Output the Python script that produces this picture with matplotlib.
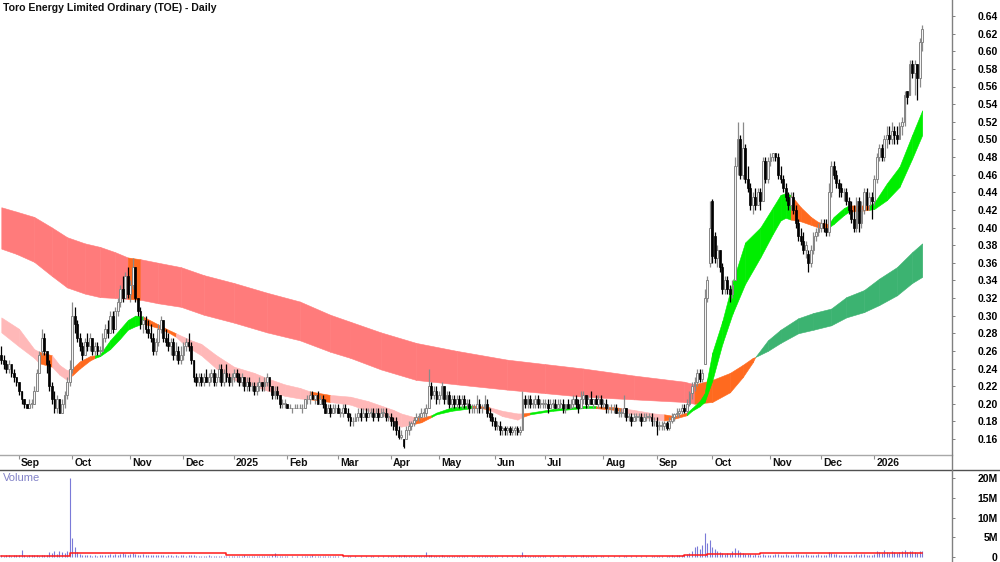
import numpy as np
import pandas as pd
import matplotlib
matplotlib.use("Agg")
import matplotlib.pyplot as plt
from matplotlib.lines import Line2D

plt.rcParams['font.family'] = ['Liberation Sans', 'DejaVu Sans']

# ---------------- data ----------------
title = "Toro Energy Limited Ordinary (TOE) - Daily"
start_date = "2024-08-22"
end_date = "2026-01-30"
asx_holidays = ['2024-12-25', '2024-12-26', '2025-01-01', '2025-01-27', '2025-04-18',
                '2025-04-21', '2025-04-25', '2025-06-09', '2025-12-25', '2025-12-26',
                '2026-01-01', '2026-01-26']

opens = [
 .255,.250,.245,.240,.245,.235,.230,
 .225,.215,.205,.200,.195,.200,.200,.215,.235,.260,.275,.260,.245,.220,.205,.195,.205,.190,.200,.210,.225,
 .240,.300,.290,.275,.265,.255,.270,.265,.275,.260,.265,.260,.260,.275,.285,.280,.300,.285,.305,.315,.330,.320,.345,
 .325,.335,.355,.320,.305,.290,.295,.285,.280,.275,.260,.270,.285,.295,.275,.270,.265,.270,.255,.260,.250,
 .255,.265,.270,.265,.250,.230,.225,.230,.225,.230,.225,.230,.235,.225,.230,.240,.225,.235,.230,.225,
 .230,.235,.230,.225,.230,.220,.225,.220,.220,.215,.220,.225,.220,.225,.230,.220,.210,.215,.210,.200,.200,
 .200,.195,.195,.195,.195,.195,.195,.195,.205,.205,.210,.205,.210,.200,.205,.200,.190,.195,.190,.195,
 .195,.190,.190,.195,.190,.185,.180,.180,.185,.190,.185,.190,.185,.190,.190,.185,.190,.185,.190,.190,.185,
 .185,.180,.180,.170,.162,.160,.160,.170,.175,.178,.182,.185,.185,.190,.190,.195,.220,.210,.215,
 .205,.210,.220,.205,.210,.200,.205,.200,.205,.200,.205,.200,.200,.195,.195,.195,.200,.195,.195,.200,.190,.185,
 .180,.175,.175,.170,.172,.170,.172,.168,.170,.172,.168,.170,.205,.200,.205,.200,.200,.205,.200,.200,
 .200,.200,.195,.200,.200,.195,.200,.200,.195,.200,.195,.200,.205,.200,.195,.205,.210,.200,.205,.200,.205,.200,.205,
 .200,.200,.195,.195,.195,.195,.190,.190,.190,.195,.185,.185,.180,.185,.185,.185,.180,.185,.185,.185,.180,
 .180,.175,.175,.175,.178,.172,.180,.185,.188,.190,.192,.195,.192,.200,.212,.220,.225,.235,.228,.245,.320,.360,
 .430,.390,.365,.375,.355,.330,.340,.330,.325,.340,.470,.500,.460,.490,.455,.445,.425,.435,.425,.440,.430,.475,.455,
 .475,.480,.485,.480,.460,.455,.445,.435,.425,.435,.420,.405,.390,.385,.375,.370,.360,.375,.390,.395,
 .400,.405,.400,.395,.440,.470,.460,.450,.445,.440,.440,.430,.420,.410,.400,.430,.405,.420,.440,.425,.435,
 .430,.455,.480,.490,.480,.500,.505,.500,.510,.505,.500,.515,.520,.555,.550,.585,.575,.585,.570,.610,
]
highs = [
 .265,.255,.250,.250,.245,.240,.230,
 .225,.215,.205,.200,.205,.205,.220,.240,.260,.285,.280,.260,.250,.225,.215,.210,.205,.205,.215,.230,.250,
 .315,.310,.295,.280,.270,.275,.280,.280,.275,.270,.270,.265,.280,.290,.295,.305,.305,.310,.320,.335,.345,.350,.355,
 .340,.365,.355,.320,.310,.300,.300,.295,.290,.280,.275,.290,.300,.295,.285,.280,.275,.275,.270,.265,.265,
 .270,.275,.280,.270,.250,.235,.235,.235,.235,.240,.235,.240,.240,.235,.245,.245,.240,.245,.235,.235,
 .240,.240,.235,.235,.230,.230,.230,.225,.225,.225,.230,.225,.230,.235,.230,.220,.220,.220,.210,.205,.205,
 .200,.200,.195,.200,.200,.200,.200,.205,.210,.215,.215,.210,.215,.210,.210,.205,.200,.200,.200,.200,
 .200,.195,.200,.200,.195,.190,.185,.190,.195,.195,.195,.195,.195,.195,.195,.195,.195,.195,.195,.195,.190,
 .190,.185,.185,.175,.170,.160,.175,.180,.180,.185,.190,.190,.195,.195,.200,.240,.225,.220,.220,
 .215,.225,.220,.215,.215,.210,.210,.210,.210,.210,.210,.205,.205,.200,.200,.210,.205,.200,.210,.205,.195,.190,
 .185,.180,.180,.175,.175,.175,.175,.175,.175,.175,.175,.215,.210,.210,.210,.205,.210,.210,.205,.205,
 .205,.205,.205,.205,.205,.205,.205,.205,.200,.205,.205,.210,.210,.205,.215,.215,.210,.210,.215,.205,.210,.210,.210,
 .205,.205,.200,.200,.200,.200,.195,.195,.210,.195,.190,.190,.190,.190,.190,.190,.190,.190,.190,.190,.185,
 .185,.180,.180,.180,.180,.185,.190,.190,.195,.195,.200,.200,.205,.215,.225,.230,.240,.240,.240,.330,.345,.430,
 .432,.395,.380,.375,.360,.345,.345,.335,.340,.480,.520,.505,.520,.495,.470,.450,.440,.445,.445,.445,.480,.480,.480,
 .485,.485,.485,.485,.470,.460,.450,.440,.440,.440,.425,.410,.400,.395,.385,.375,.380,.395,.400,.405,
 .410,.410,.410,.450,.475,.475,.465,.455,.450,.445,.445,.435,.430,.425,.435,.435,.430,.445,.445,.440,.440,
 .460,.485,.495,.495,.505,.515,.515,.520,.515,.515,.520,.525,.555,.555,.590,.590,.590,.585,.615,.630,
]
lows = [
 .245,.240,.235,.235,.230,.225,.220,
 .210,.200,.195,.195,.195,.195,.200,.215,.235,.255,.255,.235,.215,.200,.190,.190,.190,.190,.195,.205,.220,
 .235,.280,.270,.260,.250,.255,.260,.260,.255,.255,.255,.255,.260,.270,.275,.280,.280,.285,.300,.310,.315,.320,.320,
 .315,.330,.315,.300,.285,.280,.280,.275,.270,.255,.255,.265,.280,.270,.265,.260,.255,.250,.250,.245,.245,
 .250,.260,.260,.245,.225,.220,.220,.220,.220,.225,.220,.225,.220,.220,.225,.220,.220,.225,.220,.220,
 .225,.225,.220,.220,.215,.215,.215,.215,.210,.210,.215,.215,.215,.220,.215,.205,.205,.205,.195,.195,.195,
 .195,.195,.190,.195,.195,.195,.190,.195,.200,.200,.205,.200,.200,.200,.195,.190,.190,.185,.190,.190,
 .190,.185,.185,.190,.180,.175,.175,.180,.180,.180,.185,.180,.185,.185,.180,.185,.180,.185,.185,.180,.180,
 .175,.170,.165,.160,.160,.150,.160,.165,.170,.175,.180,.180,.185,.185,.185,.195,.205,.205,.200,
 .200,.205,.200,.200,.195,.195,.195,.195,.195,.195,.195,.195,.190,.190,.190,.190,.190,.190,.195,.185,.180,.175,
 .170,.170,.165,.165,.165,.165,.165,.165,.165,.165,.165,.170,.195,.195,.195,.195,.195,.195,.195,.195,
 .195,.190,.195,.195,.195,.195,.195,.190,.190,.195,.195,.195,.195,.190,.195,.200,.195,.195,.200,.195,.200,.195,.195,
 .195,.190,.190,.190,.190,.190,.185,.185,.185,.180,.180,.175,.180,.180,.180,.175,.180,.180,.180,.175,.175,
 .165,.170,.170,.170,.170,.170,.178,.180,.185,.185,.188,.190,.190,.198,.205,.215,.220,.225,.225,.245,.315,.355,
 .360,.360,.355,.350,.325,.325,.325,.315,.320,.340,.460,.455,.455,.450,.440,.420,.415,.420,.425,.420,.430,.450,.450,
 .470,.475,.475,.455,.450,.440,.430,.420,.420,.415,.400,.385,.380,.370,.365,.350,.355,.370,.385,.390,
 .395,.395,.390,.390,.435,.455,.445,.435,.435,.430,.425,.415,.405,.395,.395,.395,.400,.415,.420,.420,.410,
 .425,.450,.475,.475,.475,.490,.495,.495,.495,.495,.500,.505,.515,.540,.550,.570,.550,.545,.560,.600,
]
closes = [
 .250,.245,.240,.245,.235,.230,.225,
 .215,.205,.200,.195,.200,.200,.215,.235,.255,.275,.260,.245,.220,.205,.195,.205,.190,.200,.210,.225,.240,
 .300,.290,.275,.265,.255,.270,.265,.275,.260,.265,.260,.260,.275,.285,.280,.300,.285,.305,.315,.330,.320,.345,.325,
 .335,.355,.320,.305,.290,.295,.285,.280,.275,.260,.270,.285,.295,.275,.270,.265,.270,.255,.260,.250,.255,
 .265,.270,.265,.250,.230,.225,.230,.225,.230,.225,.230,.235,.225,.230,.240,.225,.235,.230,.225,.230,
 .235,.230,.225,.230,.220,.225,.220,.220,.215,.220,.225,.220,.225,.230,.220,.210,.215,.210,.200,.200,.200,
 .195,.195,.195,.195,.195,.195,.195,.205,.205,.210,.205,.210,.200,.205,.200,.190,.195,.190,.195,.195,
 .190,.190,.195,.190,.185,.180,.180,.185,.190,.185,.190,.185,.190,.190,.185,.190,.185,.190,.190,.185,.185,
 .180,.175,.170,.162,.165,.152,.170,.175,.178,.182,.185,.185,.190,.190,.195,.220,.210,.215,.205,
 .210,.220,.205,.210,.200,.205,.200,.205,.200,.205,.200,.200,.195,.195,.195,.200,.195,.195,.200,.190,.185,.180,
 .175,.175,.170,.172,.170,.172,.168,.170,.172,.168,.170,.205,.200,.205,.200,.200,.205,.200,.200,.200,
 .200,.195,.200,.200,.195,.200,.200,.195,.200,.195,.200,.205,.200,.195,.205,.210,.200,.205,.200,.205,.200,.205,.200,
 .200,.195,.195,.195,.195,.190,.190,.190,.195,.185,.185,.180,.185,.185,.185,.180,.185,.185,.185,.180,.180,
 .175,.175,.175,.178,.172,.180,.185,.188,.190,.192,.195,.192,.200,.212,.220,.225,.235,.228,.235,.320,.340,.400,
 .368,.365,.375,.355,.330,.340,.330,.325,.335,.470,.500,.460,.490,.455,.445,.425,.435,.425,.440,.430,.475,.455,.475,
 .480,.485,.480,.460,.455,.445,.435,.425,.435,.420,.405,.390,.385,.375,.380,.360,.375,.390,.395,.400,
 .405,.400,.395,.440,.470,.460,.450,.445,.440,.440,.430,.420,.410,.400,.430,.405,.420,.440,.425,.435,.430,
 .455,.480,.490,.480,.500,.505,.500,.510,.505,.500,.515,.520,.550,.548,.585,.575,.585,.570,.610,.625,
]
volume_m = [
 0.5,0.3,0.4,0.6,0.3,0.4,0.5,
 0.4,1.8,0.5,0.3,0.4,0.6,0.5,0.4,0.3,0.5,0.4,0.6,1.2,1.0,1.5,0.8,1.6,1.2,0.9,1.4,20.0,
 4.8,2.5,1.2,0.8,0.5,0.6,0.4,0.5,0.3,0.4,0.3,0.5,0.4,0.6,0.5,0.7,0.6,0.8,0.5,0.7,0.9,0.8,0.6,
 0.7,1.0,0.8,0.6,0.5,0.7,0.6,0.5,0.4,0.6,0.5,0.4,0.5,0.4,0.3,0.4,0.5,0.3,0.4,0.3,0.4,
 0.4,0.3,0.5,0.4,0.6,0.3,0.2,0.3,0.2,0.3,0.4,0.2,0.3,0.2,0.3,0.2,0.3,0.2,0.2,0.3,
 0.2,0.3,0.2,0.3,0.4,0.2,0.3,0.2,0.3,0.2,0.3,0.2,0.3,0.2,0.3,0.4,1.0,0.3,0.2,0.3,0.2,
 0.2,0.1,0.2,0.1,0.2,0.1,0.2,0.3,0.2,0.3,0.4,0.3,0.3,0.2,0.3,0.2,0.2,0.3,0.2,0.2,
 0.2,0.1,0.2,0.1,0.2,0.2,0.1,0.2,0.1,0.2,0.1,0.2,0.1,0.2,0.2,0.1,0.2,0.1,0.2,0.1,0.2,
 0.2,0.2,0.3,0.4,0.3,0.5,0.3,0.2,0.2,0.3,0.2,0.2,0.3,0.2,1.2,0.6,0.4,0.3,0.3,
 0.3,0.4,0.3,0.2,0.3,0.2,0.3,0.2,0.2,0.3,0.2,0.2,0.1,0.2,0.2,0.3,0.2,0.2,0.3,0.2,0.2,0.3,
 0.2,0.2,0.1,0.2,0.1,0.2,0.1,0.2,0.1,0.2,0.2,1.3,0.5,0.3,0.2,0.2,0.3,0.2,0.2,0.2,
 0.2,0.1,0.2,0.2,0.1,0.2,0.1,0.2,0.2,0.1,0.2,0.3,0.2,0.1,0.3,0.4,0.2,0.2,0.3,0.2,0.2,0.1,0.2,
 0.2,0.1,0.2,0.1,0.2,0.1,0.2,0.1,0.3,0.2,0.1,0.2,0.1,0.2,0.1,0.2,0.1,0.2,0.1,0.2,0.2,
 0.2,0.3,0.2,0.1,0.2,0.3,0.4,0.3,0.5,0.4,0.6,0.5,0.8,1.0,1.5,2.5,2.8,2.0,3.0,6.0,3.5,4.3,
 2.5,2.0,1.5,1.2,1.0,0.8,1.0,0.8,1.5,2.2,1.8,1.2,1.0,0.8,0.7,0.8,0.6,0.7,0.5,0.6,0.8,0.6,0.5,
 0.6,0.5,0.7,0.8,0.6,0.5,0.7,0.6,0.5,0.6,0.8,0.7,0.6,0.5,0.7,0.6,0.5,0.6,0.5,0.7,
 0.5,0.6,0.4,1.2,1.0,0.8,0.7,0.6,0.5,0.6,0.5,0.4,0.6,0.5,0.7,0.6,0.8,0.7,0.6,0.5,0.6,
 0.8,1.5,1.2,1.0,1.8,1.2,1.0,1.5,1.2,1.0,1.3,1.6,1.8,1.2,1.5,1.6,1.2,1.0,1.4,1.5,
]
vol_ma_idx = [0, 27, 89, 135, 270, 279, 300, 345, 364]
vol_ma_val = [0.35, 1.0, 0.55, 0.25, 0.4, 0.8, 0.9, 1.0, 1.0]

# long-term moving-average band (bar index, upper, lower, state)
long_idx = [0, 6, 13, 20, 26, 33, 39, 45, 50, 55, 62, 71, 80, 92, 105, 118, 130, 138, 150, 164,
            180, 200, 215, 230, 250, 270, 274, 281, 288, 293, 297, 298, 303, 308, 315, 321, 328,
            334, 341, 347, 354, 360, 364]
long_top = [0.423, 0.418, 0.412, 0.400, 0.389, 0.382, 0.378, 0.372, 0.366, 0.364, 0.360, 0.355,
            0.346, 0.337, 0.326, 0.316, 0.301, 0.293, 0.281, 0.269, 0.260, 0.250, 0.245, 0.240,
            0.232, 0.225, 0.222, 0.227, 0.235, 0.244, 0.252, 0.253, 0.272, 0.284, 0.297, 0.303,
            0.308, 0.321, 0.329, 0.342, 0.355, 0.372, 0.382]
long_bot = [0.376, 0.370, 0.361, 0.345, 0.332, 0.325, 0.321, 0.320, 0.319, 0.318, 0.314, 0.310,
            0.301, 0.292, 0.281, 0.272, 0.259, 0.252, 0.239, 0.227, 0.222, 0.216, 0.212, 0.208,
            0.205, 0.202, 0.200, 0.202, 0.213, 0.230, 0.247, 0.253, 0.260, 0.269, 0.280, 0.284,
            0.289, 0.298, 0.304, 0.312, 0.323, 0.337, 0.344]
long_state = ['r'] * 8 + ['o'] + ['r'] * 17 + ['o'] * 5 + ['g'] * 12

# short-term moving-average band
short_idx = [0, 7, 13, 15, 20, 23, 26, 28, 31, 35, 37, 39, 43, 47, 50, 53, 56, 62, 66, 69, 72, 75,
             79, 85, 92, 100, 105, 112, 118, 122, 130, 138, 145, 151, 155, 158, 163, 166, 170, 172,
             178, 186, 190, 193, 198, 204, 206, 209, 218, 230, 235, 243, 245, 250, 258, 262, 266,
             271, 273, 276, 278, 279, 281, 285, 289, 294, 300, 305, 308, 310, 312, 316, 320, 323,
             327, 329, 333, 335, 340, 343, 345, 350, 355, 360, 364]
short_top = [.298, .285, .262, .259, .255, .244, .238, .240, .248, .254, .255, .256, .272, .285, .295,
             .300, .299, .290, .284, .280, .276, .272, .268, .255, .242, .235, .229, .222, .218, .214,
             .210, .208, .203, .197, .193, .189, .185, .184, .187, .190, .196, .198, .197, .196, .192,
             .189, .189, .190, .194, .197, .197, .196, .195, .193, .189, .188, .186, .190, .195, .203,
             .212, .228, .258, .294, .338, .383, .400, .423, .437, .439, .437, .423, .412, .406, .404,
             .412, .422, .425, .425, .425, .428, .450, .469, .505, .533]
short_bot = [.281, .265, .252, .246, .242, .233, .227, .232, .240, .249, .252, .254, .262, .274, .284,
             .288, .291, .286, .281, .276, .268, .262, .255, .240, .227, .220, .215, .209, .206, .205,
             .202, .199, .192, .187, .180, .174, .177, .179, .185, .188, .192, .195, .195, .193, .186,
             .182, .185, .188, .192, .195, .195, .193, .191, .188, .182, .181, .183, .187, .192, .197,
             .202, .210, .226, .268, .302, .336, .366, .393, .408, .411, .409, .407, .403, .400, .400,
             .404, .414, .418, .419, .420, .421, .431, .446, .478, .505]
short_state = (['p'] * 3 + ['o'] + ['p'] * 3 + ['o'] * 3 + ['g'] * 6 + ['o'] * 3 + ['p'] * 10 +
               ['o'] + ['p'] * 6 + ['o'] * 2 + ['g'] * 3 + ['o'] * 2 + ['p'] * 3 + ['o'] +
               ['g'] * 3 + ['o'] * 2 + ['p'] * 3 + ['o'] * 2 + ['g'] * 13 + ['o'] * 4 +
               ['g'] * 3 + ['o'] * 2 + ['g'] * 6)

# ---------------- figure ----------------
W, H = 1000, 562
fig = plt.figure(figsize=(W / 100, H / 100), dpi=100)
fig.patch.set_facecolor('white')

AX_R = 952
ax_p = fig.add_axes([0, 1 - 455 / H, AX_R / W, 455 / H])
ax_d = fig.add_axes([0, 1 - 469 / H, AX_R / W, 14 / H])
ax_v = fig.add_axes([0, 0, AX_R / W, 93 / H])

n = len(closes)
dates = pd.bdate_range(start_date, end_date)
dates = dates[~dates.isin(pd.to_datetime(asx_holidays))][:n]
x = np.arange(n)
O = np.array(opens); Hh = np.array(highs); L = np.array(lows); C = np.array(closes)

px_per_bar = 2.53
x0_px = 1.3
xlim = ((0 - x0_px) / px_per_bar, (AX_R - x0_px) / px_per_bar)

# price scale: 0.64 at y=16px, 0.16 at y=439px
ppu = (439 - 16) / 0.48
ax_p.set_ylim(0.64 - (455 - 16) / ppu, 0.64 + 16 / ppu)
for a in (ax_p, ax_d, ax_v):
    a.set_xlim(*xlim)
    for s in a.spines.values():
        s.set_visible(False)
    a.set_facecolor('white')

band_long_colors = {'r': '#ff7b7b', 'o': '#ff6a1f', 'g': '#3cb371'}
band_short_colors = {'p': '#ffb8b8', 'o': '#ff6a1f', 'g': '#00ee00'}


def draw_band(ax, idx, top, bot, states, cmap, z):
    for k in range(len(idx) - 1):
        col = cmap[states[k]]
        ax.fill_between([idx[k], idx[k + 1]], [bot[k], bot[k + 1]], [top[k], top[k + 1]],
                        facecolor=col, edgecolor=col, linewidth=0.4, zorder=z)


draw_band(ax_p, long_idx, long_top, long_bot, long_state, band_long_colors, 1)
draw_band(ax_p, short_idx, short_top, short_bot, short_state, band_short_colors, 2)

up = C >= O
dn = ~up
ax_p.vlines(x[up], L[up], Hh[up], color='#8a8a8a', lw=0.9, zorder=3)
ax_p.vlines(x[dn], L[dn], Hh[dn], color='black', lw=0.9, zorder=3)
ax_p.bar(x[up], np.maximum(C - O, 0.0006)[up], bottom=O[up], width=0.72,
         facecolor='#f4f4f4', edgecolor='#858585', linewidth=0.7, zorder=4)
ax_p.bar(x[dn], (O - C)[dn], bottom=C[dn], width=0.72,
         facecolor='black', edgecolor='black', linewidth=0.5, zorder=4)

# right price axis
ax_p.yaxis.tick_right()
yt = np.round(np.arange(0.16, 0.641, 0.02), 2)
ax_p.set_yticks(yt)
ax_p.set_yticklabels([f"{v:.2f}" for v in yt])
ax_p.tick_params(axis='y', direction='out', length=2.5, width=0.7, color='#808080',
                 labelsize=7.5, pad=30.5)
for t in ax_p.get_yticklabels():
    t.set_ha('right'); t.set_fontweight('bold')
ax_p.set_xticks([])

# date strip
month_starts = [i for i in range(1, n) if dates[i].month != dates[i - 1].month]
labels = [str(dates[i].year) if dates[i].month == 1 else dates[i].strftime('%b') for i in month_starts]
ax_d.set_ylim(0, 1)
ax_d.set_xticks([]); ax_d.set_yticks([])
ax_d.vlines(month_starts, 0.72, 1.0, color='#909090', lw=0.8)
for i, lab in zip(month_starts, labels):
    ax_d.text(i + 0.8, 0.42, lab, ha='left', va='center', fontsize=7.5, fontweight='bold',
              color='#111111')

# volume
vppm = (557 - 478) / 20.0
ax_v.set_ylim(-(562 - 557) / vppm, 20 + (478 - 469) / vppm)
V = np.array(volume_m)
ax_v.vlines(x, 0, V, color='#7a7ad8', lw=0.8, zorder=2)
ax_v.step(vol_ma_idx, vol_ma_val, where='post', color='#ff1a1a', lw=1.1, zorder=3)
ax_v.yaxis.tick_right()
ax_v.set_yticks([0, 5, 10, 15, 20])
ax_v.set_yticklabels(['0', '5M', '10M', '15M', '20M'])
ax_v.tick_params(axis='y', direction='out', length=2.5, width=0.7, color='#808080',
                 labelsize=7.5, pad=30.5)
for t in ax_v.get_yticklabels():
    t.set_ha('right'); t.set_fontweight('bold')
ax_v.set_xticks([])

# frame lines
fig.add_artist(Line2D([0, AX_R / W], [1 - 455 / H] * 2, color='#a8a8a8', lw=1.0))
fig.add_artist(Line2D([0, 1], [1 - 469.5 / H] * 2, color='#505050', lw=1.0))
fig.add_artist(Line2D([AX_R / W] * 2, [0, 1], color='#808080', lw=1.0))

fig.text(3 / W, 1 - 8 / H, title, ha='left', va='center', fontsize=7.6,
         fontweight='bold', color='#111111')
fig.text(3 / W, 1 - 478 / H, 'Volume', ha='left', va='center', fontsize=8,
         color='#8282c8')

fig.savefig('out.png', dpi=100, facecolor='white')
